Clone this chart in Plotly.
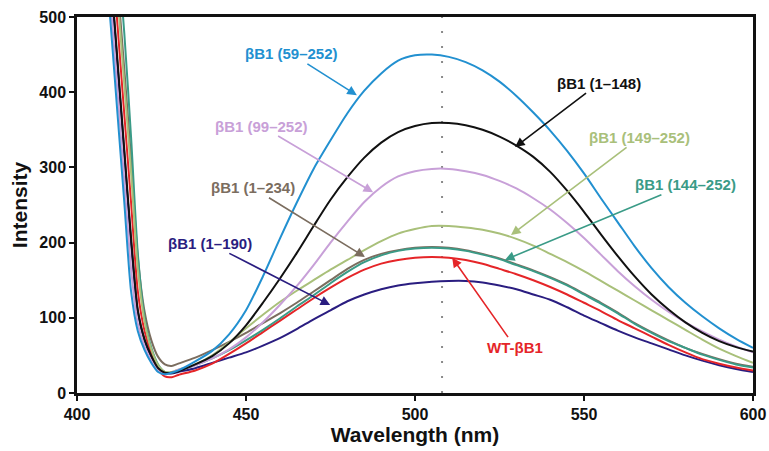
import plotly.graph_objects as go

wavelength = [408, 410, 412, 414, 416, 418, 420, 422, 424, 426, 428, 430,
              435, 440, 445, 450, 455, 460, 465, 470, 475, 480, 485, 490, 495,
              500, 505, 510, 515, 520, 525, 530, 535, 540, 545, 550, 555, 560,
              565, 570, 575, 580, 585, 590, 595, 600]

b59_252 = [605, 488, 370, 253, 135, 82, 57, 40, 28, 25, 27, 30,
           42, 56, 78, 110, 155, 205, 253, 298, 336, 372, 402, 425, 442,
           449, 450, 447, 440, 429, 414, 395, 373, 349, 322, 292, 259, 227,
           195, 166, 141, 120, 102, 86, 72, 60]
b1_148 = [675, 558, 441, 323, 206, 110, 71, 49, 33, 27, 27, 29,
          38, 49, 66, 90, 120, 152, 186, 222, 257, 287, 313, 333, 347,
          355, 359, 359, 356, 350, 341, 329, 314, 294, 269, 241, 211, 182,
          155, 131, 111, 94, 80, 69, 61, 55]
b99_252 = [635, 517, 400, 282, 165, 92, 62, 43, 30, 25, 27, 31,
           37, 46, 58, 74, 94, 117, 142, 170, 200, 228, 254, 274, 288,
           295, 298, 298, 295, 290, 282, 272, 259, 244, 226, 206, 184, 162,
           142, 124, 108, 94, 82, 71, 62, 54]
b149_252 = [760, 645, 528, 410, 293, 165, 95, 58, 37, 28, 28, 31,
            38, 50, 67, 86, 104, 121, 136, 150, 164, 177, 190, 202, 212,
            218, 222, 222, 220, 217, 212, 205, 196, 185, 174, 162, 149, 136,
            123, 110, 97, 84, 71, 59, 49, 40]
b144_252 = [830, 712, 595, 478, 340, 185, 100, 60, 38, 28, 27, 30,
            37, 46, 57, 70, 84, 99, 115, 130, 146, 161, 174, 183, 189,
            192, 193, 192, 189, 184, 178, 170, 162, 153, 143, 131, 119, 106,
            92, 80, 69, 60, 51, 44, 38, 34]
b1_234 = [780, 665, 546, 430, 311, 180, 108, 70, 48, 38, 36, 39,
          47, 57, 68, 80, 93, 106, 120, 135, 150, 165, 177, 185, 190,
          193, 194, 193, 190, 185, 179, 171, 163, 154, 144, 132, 120, 107,
          93, 81, 70, 60, 52, 45, 39, 35]
wt_b1 = [720, 605, 488, 370, 253, 135, 82, 52, 32, 22, 21, 24,
         30, 39, 52, 66, 81, 96, 111, 126, 140, 153, 164, 172, 177,
         180, 181, 180, 177, 172, 165, 158, 150, 141, 131, 120, 109, 97,
         86, 75, 64, 54, 45, 39, 34, 30]
b1_190 = [670, 553, 435, 318, 200, 108, 70, 48, 33, 26, 26, 28,
          33, 40, 47, 54, 63, 73, 85, 98, 110, 122, 131, 138, 143,
          146, 148, 149, 149, 147, 143, 138, 131, 124, 114, 103, 93, 83,
          74, 66, 58, 50, 43, 37, 32, 28]

series_names = ["βB1 (1–190)", "WT-βB1", "βB1 (1–234)", "βB1 (144–252)",
                "βB1 (149–252)", "βB1 (99–252)", "βB1 (1–148)", "βB1 (59–252)"]
series_values = [b1_190, wt_b1, b1_234, b144_252, b149_252, b99_252, b1_148, b59_252]
series_colors = ["#2a1d80", "#e52528", "#7b6d5f", "#3a9b87",
                 "#a9c07a", "#c8a0d8", "#111111", "#2290d0"]

x_ticks = [400, 450, 500, 550, 600]
y_ticks = [0, 100, 200, 300, 400, 500]
peak_line = 508

# label: (text x, text y, arrow tip x, arrow tip y)
labels = {
    "βB1 (59–252)": (463.5, 451, 482.8, 396),
    "βB1 (1–148)": (554.5, 412, 529.6, 327),
    "βB1 (99–252)": (454.5, 355, 487.6, 267),
    "βB1 (149–252)": (566.5, 340, 528.4, 210),
    "βB1 (144–252)": (580.0, 277, 526.6, 177),
    "βB1 (1–234)": (452.0, 273, 485.2, 181),
    "βB1 (1–190)": (439.3, 199, 474.9, 117),
    "WT-βB1": (529.6, 61, 511.0, 180),
}

FONT = "Liberation Sans, Arial, sans-serif"

fig = go.Figure()
for name, vals, col in zip(series_names, series_values, series_colors):
    fig.add_trace(go.Scatter(x=wavelength, y=vals, mode="lines", name=name,
                             line=dict(color=col, width=2, shape="spline", smoothing=0.7)))

fig.add_shape(type="line", xref="x", yref="paper", x0=peak_line, x1=peak_line, y0=0, y1=1,
              line=dict(color="#8a8a8a", width=2, dash="2px,13px"), layer="below")

color_map = dict(zip(series_names, series_colors))
for text, (tx, ty, px, py) in labels.items():
    c = color_map[text]
    fig.add_annotation(x=px, y=py, ax=tx, ay=ty, xref="x", yref="y", axref="x", ayref="y",
                       text=text, showarrow=True, arrowhead=2, arrowsize=1.2, arrowwidth=1.6,
                       arrowcolor=c, standoff=0, startstandoff=0,
                       font=dict(family=FONT, size=15, color=c, weight="bold"))

fig.update_layout(
    width=769, height=451,
    margin=dict(l=77, r=16, t=17, b=58),
    paper_bgcolor="white", plot_bgcolor="white",
    showlegend=False,
    font=dict(family=FONT, color="#111111"),
)
fig.update_xaxes(range=[400, 600], tickvals=x_ticks, showgrid=False, zeroline=False,
                 showline=True, linecolor="#111111", linewidth=2.5, mirror=True,
                 ticks="outside", ticklen=5, tickwidth=2, tickcolor="#111111",
                 tickfont=dict(size=16, weight="bold"), automargin=False,
                 title=dict(text="Wavelength (nm)", font=dict(size=21, weight="bold"), standoff=2))
fig.update_yaxes(range=[0, 500], tickvals=y_ticks, showgrid=False, zeroline=False,
                 showline=True, linecolor="#111111", linewidth=2.5, mirror=True,
                 ticks="outside", ticklen=5, tickwidth=2, tickcolor="#111111",
                 tickfont=dict(size=16, weight="bold"), automargin=False,
                 title=dict(text="Intensity", font=dict(size=21, weight="bold"), standoff=6))

fig.write_html("out.html", config={"displayModeBar": False},
               post_script="document.body.style.margin='0px';document.body.style.overflow='hidden';")
